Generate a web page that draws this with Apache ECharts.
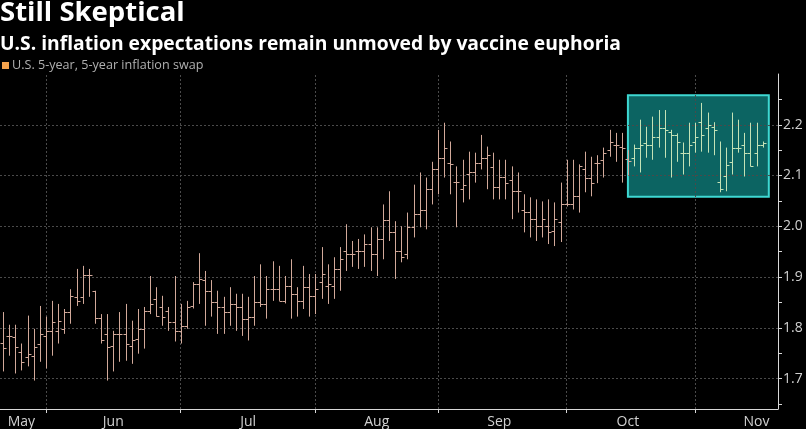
<!DOCTYPE html>
<html>
<head>
<meta charset="utf-8">
<script src="https://cdn.jsdelivr.net/npm/echarts@6/dist/echarts.min.js"></script>
<style>
  html, body { margin: 0; padding: 0; background: #000; }
  #chart { width: 806px; height: 429px; }
</style>
</head>
<body>
<div id="chart"></div>
<script>
// ---- Data (U.S. 5-year, 5-year inflation swap, daily OHLC) ----
var dates = [
  '2020-05-20','2020-05-21','2020-05-22','2020-05-26','2020-05-27','2020-05-28','2020-05-29',
  '2020-06-01','2020-06-02','2020-06-03','2020-06-04','2020-06-05','2020-06-08','2020-06-09','2020-06-10','2020-06-11','2020-06-12',
  '2020-06-15','2020-06-16','2020-06-17','2020-06-18','2020-06-19','2020-06-22','2020-06-23','2020-06-24','2020-06-25','2020-06-26','2020-06-29','2020-06-30',
  '2020-07-01','2020-07-02','2020-07-06','2020-07-07','2020-07-08','2020-07-09','2020-07-10','2020-07-13','2020-07-14','2020-07-15','2020-07-16',
  '2020-07-17','2020-07-20','2020-07-21','2020-07-22','2020-07-23','2020-07-24','2020-07-27','2020-07-28','2020-07-29','2020-07-30','2020-07-31',
  '2020-08-03','2020-08-04','2020-08-05','2020-08-06','2020-08-07','2020-08-10','2020-08-11','2020-08-12','2020-08-13','2020-08-14',
  '2020-08-17','2020-08-18','2020-08-19','2020-08-20','2020-08-21','2020-08-24','2020-08-25','2020-08-26','2020-08-27','2020-08-28',
  '2020-09-01','2020-09-02','2020-09-03','2020-09-04','2020-09-08','2020-09-09','2020-09-10','2020-09-11','2020-09-14','2020-09-15','2020-09-16',
  '2020-09-17','2020-09-18','2020-09-21','2020-09-22','2020-09-23','2020-09-24','2020-09-25','2020-09-28','2020-09-29','2020-09-30',
  '2020-10-01','2020-10-02','2020-10-05','2020-10-06','2020-10-07','2020-10-08','2020-10-09','2020-10-13','2020-10-14','2020-10-15','2020-10-16',
  '2020-10-19','2020-10-20','2020-10-21','2020-10-22','2020-10-23','2020-10-26','2020-10-27','2020-10-28','2020-10-29','2020-10-30',
  '2020-11-02','2020-11-03','2020-11-04','2020-11-05','2020-11-06','2020-11-09','2020-11-10','2020-11-12','2020-11-13','2020-11-16','2020-11-17','2020-11-18'
];
var padDates = ['2020-11-19','2020-11-20'];

var openVals = [
  1.771,1.784,1.782,1.753,1.743,1.745,1.769,
  1.784,1.794,1.794,1.798,1.831,1.861,1.861,1.904,1.873,1.820,
  1.788,1.765,1.788,1.788,1.765,1.778,1.798,1.833,1.857,1.841,1.833,1.812,
  1.794,1.804,1.843,1.886,1.894,1.873,1.851,1.841,1.831,1.847,1.841,
  1.818,1.822,1.851,1.847,1.876,1.876,1.853,1.882,1.867,1.853,1.880,
  1.863,1.890,1.882,1.882,1.916,1.951,1.945,1.951,1.951,1.965,
  1.945,1.975,2.012,1.988,1.951,1.945,1.998,2.024,2.033,2.073,
  2.112,2.135,2.125,2.088,2.073,2.102,2.106,2.125,2.135,2.116,2.078,
  2.098,2.092,2.069,2.033,2.029,2.014,2.000,2.000,1.990,2.008,
  2.043,2.043,2.059,2.112,2.096,2.125,2.131,2.151,2.161,2.157,2.132,
  2.135,2.155,2.165,2.161,2.175,2.194,2.186,2.180,2.145,2.145,
  2.167,2.206,2.194,2.196,2.088,2.100,2.127,2.155,2.161,2.145,2.145,2.161
];
var highVals = [
  1.831,1.806,1.806,1.769,1.824,1.798,1.843,
  1.822,1.853,1.847,1.837,1.876,1.916,1.922,1.916,1.873,1.827,
  1.827,1.794,1.831,1.847,1.814,1.837,1.841,1.902,1.880,1.863,1.841,1.902,
  1.847,1.853,1.890,1.947,1.912,1.894,1.873,1.861,1.880,1.867,1.867,
  1.861,1.902,1.925,1.902,1.931,1.922,1.902,1.935,1.880,1.922,1.906,
  1.906,1.959,1.925,1.939,1.959,2.004,1.971,1.975,1.984,1.998,
  1.998,2.043,2.069,2.010,2.000,2.027,2.082,2.106,2.096,2.127,
  2.190,2.204,2.167,2.118,2.131,2.147,2.145,2.180,2.157,2.145,2.131,
  2.131,2.118,2.106,2.063,2.057,2.053,2.049,2.053,2.047,2.086,
  2.131,2.131,2.122,2.147,2.137,2.140,2.155,2.190,2.184,2.184,2.150,
  2.161,2.210,2.196,2.216,2.229,2.229,2.190,2.183,2.165,2.204,
  2.204,2.243,2.224,2.205,2.167,2.155,2.224,2.210,2.184,2.204,2.204,2.167
];
var lowVals = [
  1.714,1.745,1.710,1.716,1.724,1.696,1.733,
  1.720,1.745,1.769,1.788,1.808,1.843,1.847,1.861,1.808,1.769,
  1.696,1.714,1.733,1.735,1.729,1.749,1.759,1.827,1.822,1.804,1.794,1.773,
  1.769,1.798,1.838,1.847,1.804,1.822,1.788,1.788,1.804,1.794,1.784,
  1.775,1.804,1.841,1.818,1.853,1.853,1.848,1.818,1.822,1.837,1.822,
  1.827,1.857,1.847,1.857,1.873,1.912,1.920,1.916,1.920,1.912,
  1.902,1.935,1.971,1.896,1.929,1.935,1.978,1.998,1.994,2.043,
  2.063,2.096,2.063,1.998,2.047,2.053,2.086,2.112,2.073,2.053,2.053,
  2.053,2.014,2.027,1.988,1.978,1.971,1.978,1.965,1.961,1.969,
  2.039,2.033,2.027,2.067,2.059,2.085,2.096,2.137,2.127,2.086,2.100,
  2.118,2.106,2.135,2.131,2.155,2.135,2.096,2.127,2.102,2.118,
  2.145,2.147,2.145,2.140,2.067,2.069,2.102,2.145,2.098,2.118,2.118,2.155
];
var closeVals = [
  1.761,1.784,1.763,1.733,1.749,1.763,1.788,
  1.794,1.812,1.814,1.831,1.863,1.853,1.904,1.904,1.820,1.775,
  1.763,1.788,1.788,1.769,1.775,1.798,1.833,1.847,1.824,1.822,1.812,1.794,
  1.804,1.841,1.886,1.896,1.873,1.851,1.841,1.831,1.847,1.841,1.818,
  1.822,1.851,1.847,1.876,1.876,1.853,1.882,1.867,1.853,1.880,1.863,
  1.876,1.906,1.886,1.916,1.935,1.945,1.945,1.951,1.965,1.945,
  1.975,2.012,1.988,1.951,1.939,1.998,2.024,2.033,2.073,2.112,
  2.135,2.155,2.122,2.088,2.082,2.106,2.125,2.135,2.141,2.078,2.098,
  2.086,2.069,2.069,2.029,2.014,2.000,2.014,1.988,2.014,2.043,
  2.043,2.059,2.118,2.096,2.086,2.125,2.145,2.167,2.161,2.155,2.128,
  2.155,2.161,2.161,2.175,2.194,2.190,2.180,2.167,2.145,2.161,
  2.175,2.180,2.200,2.190,2.073,2.120,2.155,2.155,2.145,2.118,2.161,2.165
];

// Axis text
var monthLabels = ['May','Jun','Jul','Aug','Sep','Oct','Nov'];
var monthLabelDates = ['2020-05-26','2020-06-16','2020-07-17','2020-08-17','2020-09-16','2020-10-16','2020-11-17'];
var yLabelValues = [1.7, 1.8, 1.9, 2.0, 2.1, 2.2];
var yTickValues = [1.65, 1.7, 1.75, 1.8, 1.85, 1.9, 1.95, 2.0, 2.05, 2.1, 2.15, 2.2, 2.25];

// Highlight box (date range and value range)
var boxFrom = '2020-10-16';
var boxTo = '2020-11-19';
var boxLow = 2.058;
var boxHigh = 2.258;

// ---- Build ----
var categories = dates.concat(padDates);
var monthStarts = [];
for (var i = 1; i < dates.length; i++) {
  if (dates[i].slice(5, 7) !== dates[i - 1].slice(5, 7)) monthStarts.push(dates[i]);
}
var ohlc = dates.map(function (d, i) {
  return [i, openVals[i], highVals[i], lowVals[i], closeVals[i]];
});
var boxStartIdx = dates.indexOf(boxFrom);

var barColor = '#d2a99a';
var boxBarColor = '#c4e2b6';
var gridColor = '#4a4a4a';
var axisColor = '#d8d8d8';
var textColor = '#d0d0d0';
var fontFam = '"Open Sans", "Noto Sans", sans-serif';

var chart = echarts.init(document.getElementById('chart'), null, { renderer: 'canvas' });

var option = {
  backgroundColor: '#000',
  animation: false,
  title: {
    text: 'Still Skeptical',
    subtext: 'U.S. inflation expectations remain unmoved by vaccine euphoria',
    left: 0, top: -1, padding: 0, itemGap: 8,
    textStyle: { color: '#ffffff', fontSize: 27.5, fontWeight: 'bold', fontFamily: fontFam },
    subtextStyle: { color: '#ffffff', fontSize: 19.3, fontWeight: 'bold', fontFamily: fontFam }
  },
  legend: {
    left: 2, top: 59, padding: 0,
    icon: 'rect', itemWidth: 7, itemHeight: 7, itemGap: 4,
    textStyle: { color: '#b0b0b0', fontSize: 12.6, fontFamily: fontFam, padding: [0, 0, 0, -2] },
    data: ['U.S. 5-year, 5-year inflation swap']
  },
  grid: { left: 0, right: 28, top: 74, bottom: 19, containLabel: false },
  xAxis: {
    type: 'category',
    data: categories,
    boundaryGap: true,
    axisLine: { show: true, lineStyle: { color: axisColor, width: 1 } },
    axisTick: {
      show: true, alignWithLabel: true, length: 4,
      interval: function (idx, val) { return monthStarts.indexOf(val) >= 0; },
      lineStyle: { color: axisColor }
    },
    axisLabel: {
      show: true, margin: 6,
      interval: function (idx, val) { return monthLabelDates.indexOf(val) >= 0; },
      formatter: function (val) { return monthLabels[monthLabelDates.indexOf(val)]; },
      color: textColor, fontSize: 14, fontFamily: fontFam
    },
    splitLine: { show: false }
  },
  yAxis: {
    type: 'value',
    position: 'right',
    min: 1.64, max: 2.3,
    axisLine: { show: true, lineStyle: { color: axisColor, width: 1 } },
    axisTick: { show: true, inside: false, length: 4, customValues: yTickValues, lineStyle: { color: axisColor } },
    axisLabel: {
      show: true, margin: 5, customValues: yLabelValues,
      formatter: function (v) { return v.toFixed(1); },
      color: textColor, fontSize: 14, fontFamily: fontFam
    },
    splitLine: { show: false }
  },
  series: [{
    name: 'U.S. 5-year, 5-year inflation swap',
    type: 'custom',
    z: 3,
    itemStyle: { color: '#f4a24c' },
    dimensions: ['idx', 'open', 'high', 'low', 'close'],
    encode: { x: 0, y: [1, 2, 3, 4] },
    data: ohlc,
    renderItem: function (params, api) {
      var xi = api.value(0);
      var pO = api.coord([xi, api.value(1)]);
      var pH = api.coord([xi, api.value(2)]);
      var pL = api.coord([xi, api.value(3)]);
      var pC = api.coord([xi, api.value(4)]);
      var x = Math.round(pO[0]) + 0.5;
      var yo = Math.round(pO[1]) + 0.5;
      var yc = Math.round(pC[1]) + 0.5;
      var w = 3;
      var color = params.dataIndex > boxStartIdx ? boxBarColor : barColor;
      var st = { stroke: color, lineWidth: 1 };
      return {
        type: 'group',
        children: [
          { type: 'line', shape: { x1: x, y1: pH[1], x2: x, y2: pL[1] }, style: st },
          { type: 'line', shape: { x1: x - w, y1: yo, x2: x, y2: yo }, style: st },
          { type: 'line', shape: { x1: x, y1: yc, x2: x + w, y2: yc }, style: st }
        ]
      };
    },
    markLine: {
      silent: true, symbol: 'none', z: 2,
      label: { show: false },
      lineStyle: { color: gridColor, type: [2, 2], width: 1 },
      data: yLabelValues.map(function (v) { return { yAxis: v }; })
        .concat(monthStarts.map(function (d) { return { xAxis: d }; }))
    },
    markArea: {
      silent: true, z: 1,
      itemStyle: { color: 'rgba(16, 128, 125, 0.78)', borderColor: '#3ed8d2', borderWidth: 2 },
      label: { show: false },
      data: [[{ xAxis: boxFrom, yAxis: boxLow }, { xAxis: boxTo, yAxis: boxHigh }]]
    }
  }]
};
chart.setOption(option);
</script>
</body>
</html>
